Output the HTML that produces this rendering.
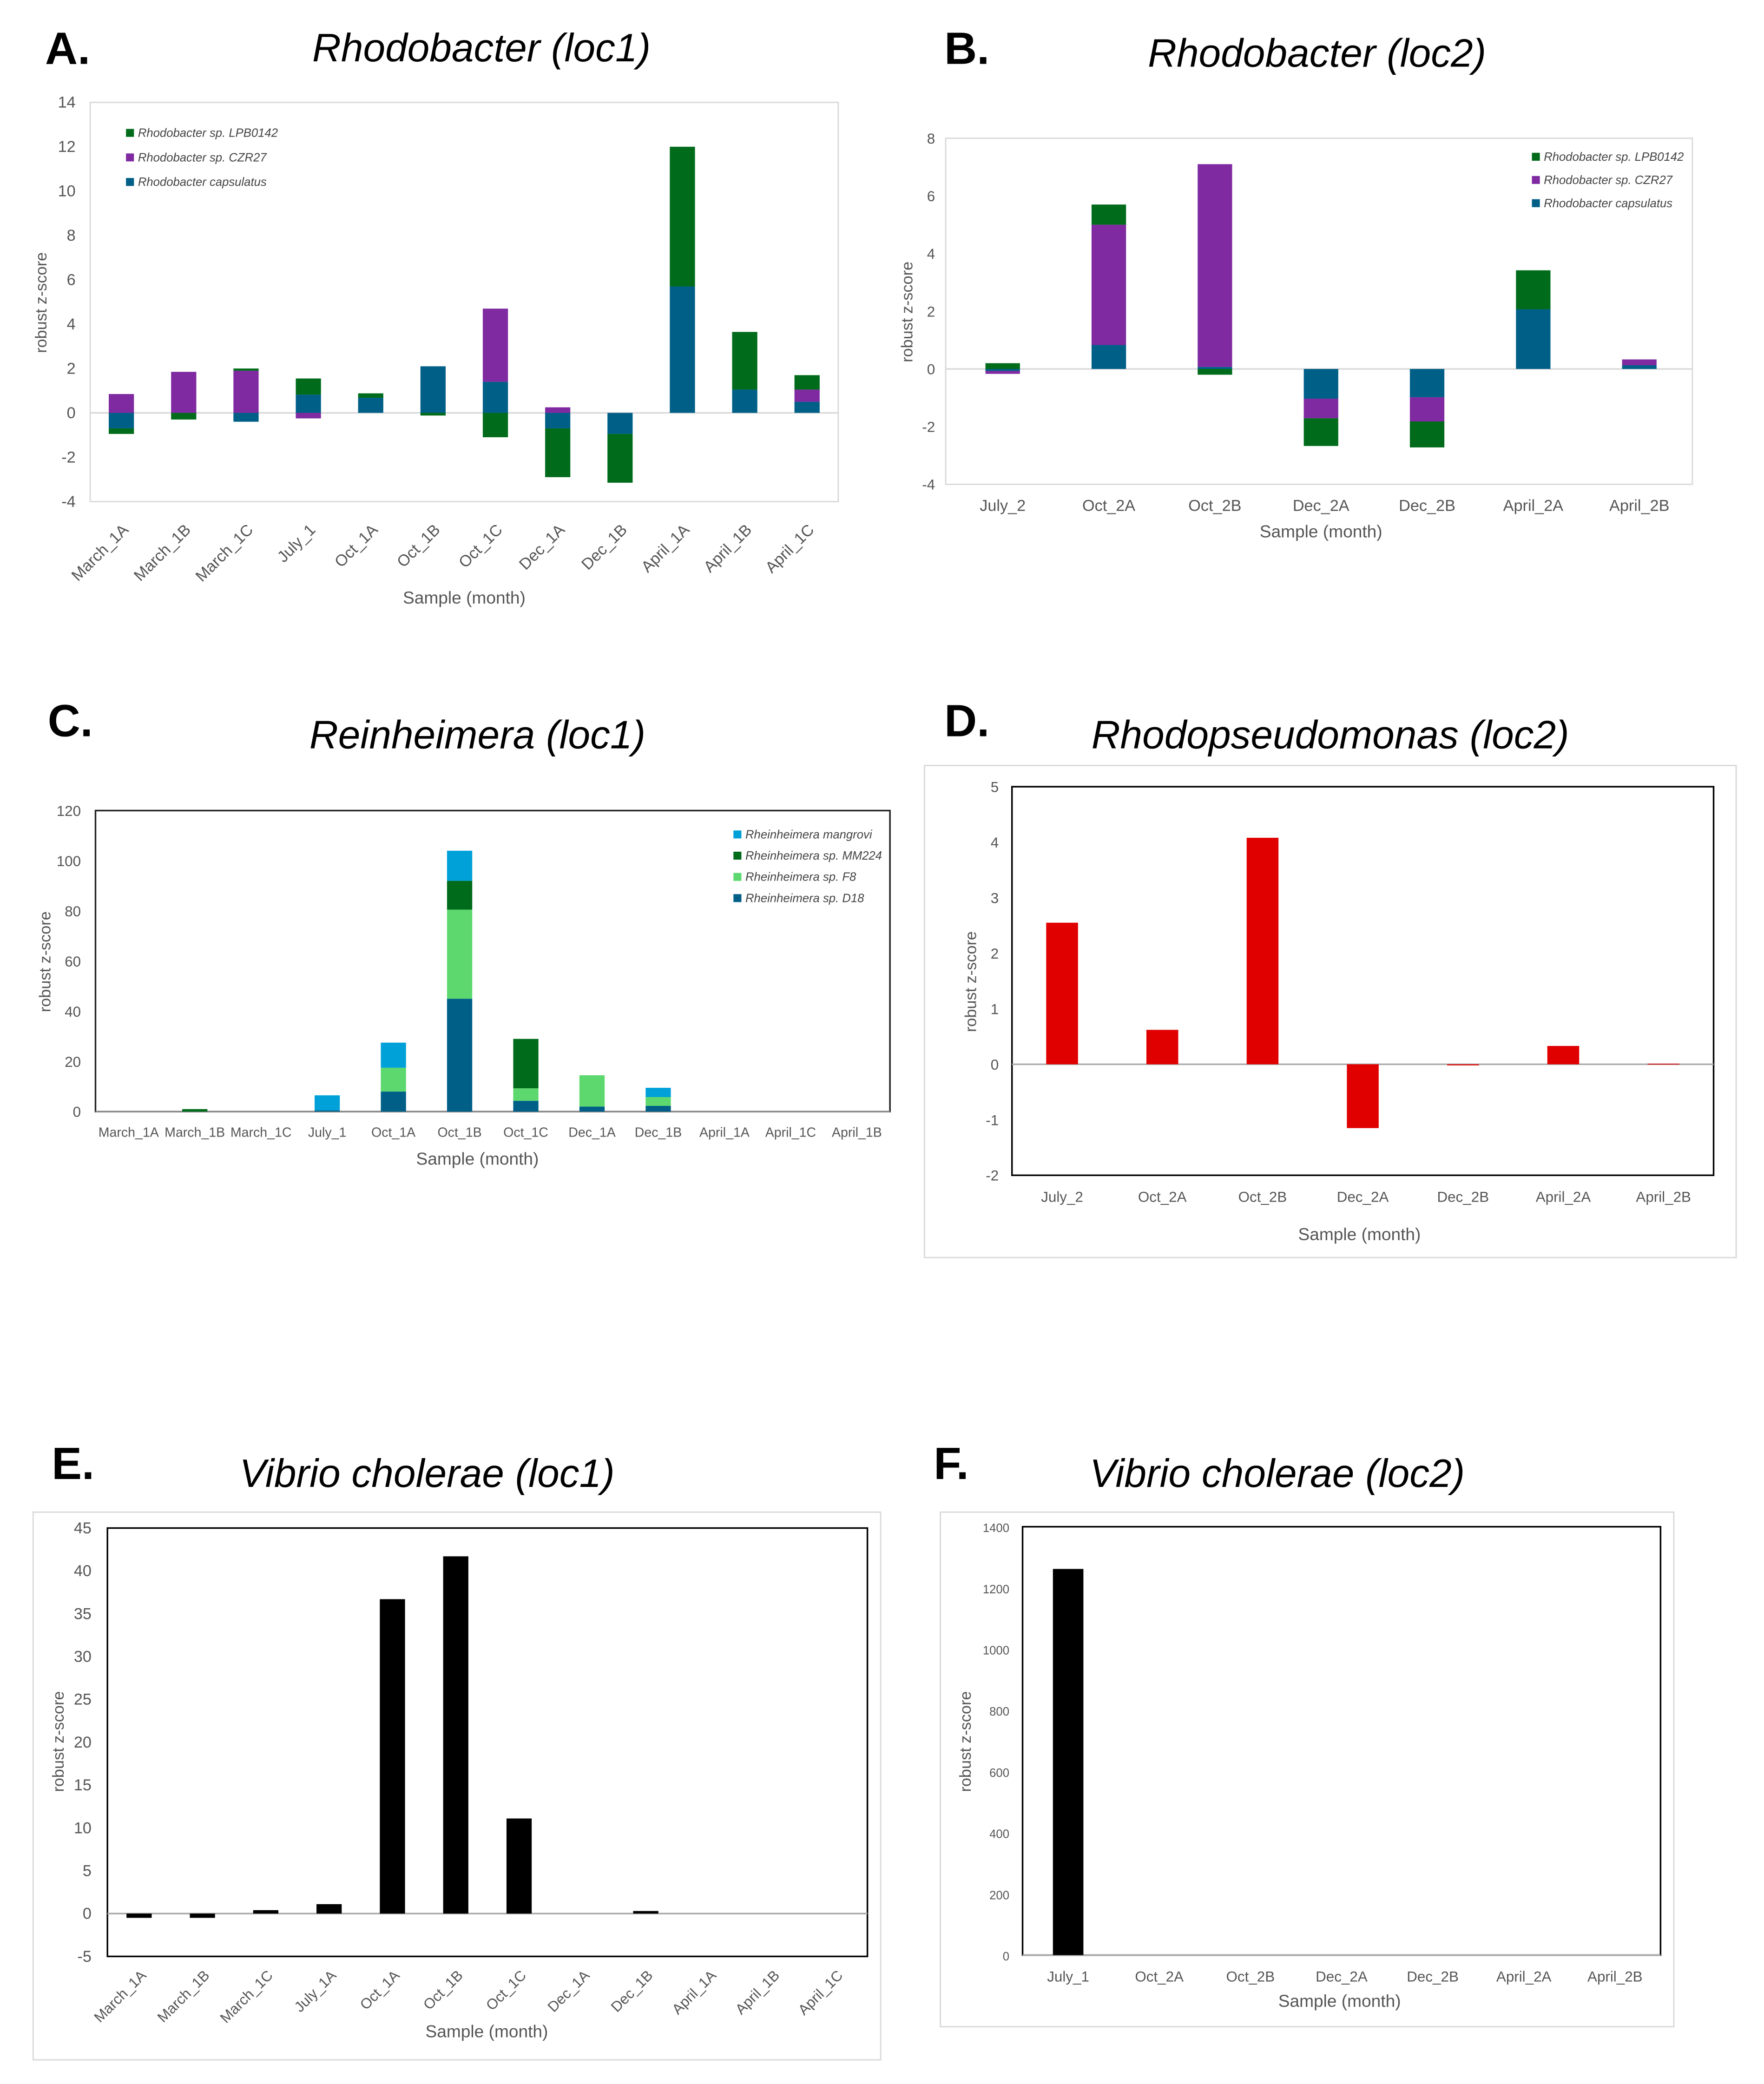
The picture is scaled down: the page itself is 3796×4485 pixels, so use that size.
<!DOCTYPE html>
<html><head><meta charset="utf-8"><style>
html,body{margin:0;padding:0;background:#fff;}
svg{display:block;font-family:"Liberation Sans",sans-serif;}
</style></head><body>
<svg id="fig" width="3796" height="4485" viewBox="0 0 1330 1571" xmlns="http://www.w3.org/2000/svg">
<rect x="0" y="0" width="1330" height="1571" fill="#fff"/>
</svg>
<script>
// ---------- DATA ----------
const catsA = ["March_1A","March_1B","March_1C","July_1","Oct_1A","Oct_1B","Oct_1C","Dec_1A","Dec_1B","April_1A","April_1B","April_1C"];
const capsA = [-0.7, 0, -0.4, 0.82, 0.68, 2.1, 1.4, -0.7, -0.95, 5.7, 1.05, 0.5];
const czrA  = [0.85, 1.85, 1.9, -0.25, 0, 0, 3.3, 0.25, 0, 0, 0, 0.55];
const lpbA  = [-0.25, -0.3, 0.1, 0.73, 0.2, -0.12, -1.1, -2.2, -2.2, 6.3, 2.6, 0.65];
const ticksA = [14,12,10,8,6,4,2,0,-2,-4];

const catsB = ["July_2","Oct_2A","Oct_2B","Dec_2A","Dec_2B","April_2A","April_2B"];
const capsB = [-0.07, 0.83, 0.07, -1.03, -0.98, 2.07, 0.13];
const czrB  = [-0.1, 4.17, 7.03, -0.68, -0.84, 0, 0.2];
const lpbB  = [0.2, 0.7, -0.2, -0.96, -0.9, 1.35, 0];
const ticksB = [8,6,4,2,0,-2,-4];

const catsC = ["March_1A","March_1B","March_1C","July_1","Oct_1A","Oct_1B","Oct_1C","Dec_1A","Dec_1B","April_1A","April_1C","April_1B"];
const d18C  = [0, 0, 0, 0.5, 8, 45, 4.3, 2, 2.3, 0, 0, 0];
const f8C   = [0, 0, 0, 0, 9.5, 35.5, 5, 12.5, 3.5, 0, 0, 0];
const mm224C= [0, 1, 0, 0, 0, 11.5, 19.7, 0, 0, 0, 0, 0];
const mangC = [0, 0, 0, 6, 10, 12, 0, 0, 3.7, 0, 0, 0];
const ticksC = [120,100,80,60,40,20,0];

const catsD = ["July_2","Oct_2A","Oct_2B","Dec_2A","Dec_2B","April_2A","April_2B"];
const valsD = [2.55, 0.62, 4.08, -1.15, -0.02, 0.33, 0.01];
const ticksD = [5,4,3,2,1,0,-1,-2];

const catsE = ["March_1A","March_1B","March_1C","July_1A","Oct_1A","Oct_1B","Oct_1C","Dec_1A","Dec_1B","April_1A","April_1B","April_1C"];
const valsE = [-0.5, -0.5, 0.4, 1.1, 36.7, 41.7, 11.1, 0, 0.3, 0, 0, 0];
const ticksE = [45,40,35,30,25,20,15,10,5,0,-5];

const catsF = ["July_1","Oct_2A","Oct_2B","Dec_2A","Dec_2B","April_2A","April_2B"];
const valsF = [1262, 0, 0, 0, 0, 0, 0];
const ticksF = [1400,1200,1000,800,600,400,200,0];

// ---------- DRAWING ----------
const NS="http://www.w3.org/2000/svg";
const svg=document.getElementById('fig');
function el(tag, attrs, parent, text){
  const e=document.createElementNS(NS,tag);
  for(const k in attrs) e.setAttribute(k, attrs[k]);
  if(text!==undefined) e.textContent=text;
  (parent||svg).appendChild(e);
  return e;
}
const C={green:"#006b1b",purple:"#7f2aa0",blue:"#005f87",cyan:"#00a0d8",lgreen:"#5cd86e",red:"#e00000",black:"#000"};

function chart(cfg){
  const g=el('g',{});
  
  
  const x0=cfg.x0,x1=cfg.x1,y0=cfg.y0,y1=cfg.y1;
  const vmin=cfg.vmin,vmax=cfg.vmax;
  const yS=v=>y0+(vmax-v)/(vmax-vmin)*(y1-y0);
  const n=cfg.cats.length, step=(x1-x0)/n;
  const xS=i=>x0+step*(i+0.5);
  if(cfg.outer){
    const o=el('rect',{x:cfg.outer[0],y:cfg.outer[1],width:cfg.outer[2]-cfg.outer[0],height:cfg.outer[3]-cfg.outer[1],fill:"none",stroke:"#d9d9d9","stroke-width":1},g);
    
    
  }
  const fr=el('rect',{x:x0-cfg.padL,y:y0,width:x1-x0+cfg.padL,height:y1-y0,fill:"none",stroke:cfg.frame,"stroke-width":cfg.frameW},g);
  
  
  const zl=el('line',{x1:x0-cfg.padL,x2:x1,y1:yS(0),y2:yS(0),stroke:cfg.zeroCol||"#d9d9d9","stroke-width":1.2},g);
  
  
  cfg.ticks.forEach(t=>{
    const tx=el('text',{x:cfg.tickX,y:yS(t)+4,"text-anchor":"end","font-size":cfg.tickSize,fill:"#555"},g,String(t));
    
    
  });
  cfg.cats.forEach((c,i)=>{
    let pos=0,neg=0;
    cfg.series.forEach(s=>{
      const v=s.vals[i];
      if(!v) return;
      let a,b;
      if(v>0){a=pos;b=pos+v;pos=b;} else {a=neg;b=neg+v;neg=b;}
      const ya=yS(a), yb=yS(b);
      const r=el('rect',{x:xS(i)-cfg.barW/2,y:Math.min(ya,yb),width:cfg.barW,height:Math.max(0.6,Math.abs(ya-yb)),fill:s.color},g);
      
      
    });
    let lb;
    if(cfg.rot){
      lb=el('text',{x:xS(i)+6,y:cfg.labY,"text-anchor":"end","font-size":cfg.labSize,fill:"#555",transform:`rotate(-45 ${xS(i)+6} ${cfg.labY})`},g,c);
    } else {
      const at={x:xS(i),y:cfg.labY,"text-anchor":"middle","font-size":cfg.labSize,fill:"#555"};
      if(cfg.labFit && c.length>8){at.textLength=step-3;at.lengthAdjust="spacingAndGlyphs";}
      lb=el('text',at,g,c);
    }
    
    
  });
  const xt=el('text',{x:cfg.xtX,y:cfg.xtY,"text-anchor":"middle","font-size":13,fill:"#555"},g,"Sample (month)");
  
  
  const yt=el('text',{x:cfg.ytX,y:cfg.ytY,"text-anchor":"middle","font-size":12,fill:"#555",transform:`rotate(-90 ${cfg.ytX} ${cfg.ytY})`},g,"robust z-score");
  
  
  const tt=el('text',{x:cfg.titleX,y:cfg.titleY,"text-anchor":"middle","font-size":30,"font-style":"italic",fill:"#000"},g,cfg.title);
  
  
  const lt=el('text',{x:cfg.letX,y:cfg.letY,"font-size":34,"font-weight":"bold",fill:"#000"},g,cfg.letter);
  
  
  if(cfg.legend){
    cfg.legend.items.forEach((it,k)=>{
      const ly=cfg.legend.y+k*cfg.legend.dy;
      const sw=el('rect',{x:cfg.legend.x,y:ly-6,width:6,height:6,fill:it[1]},g);
      
      
      const lx=el('text',{x:cfg.legend.x+9,y:ly,"font-size":9,"font-style":"italic",fill:"#444"},g,it[0]);
      
      
    });
  }
}

chart({name:"chart-a",x0:68,x1:632,y0:77,y1:378,vmin:-4,vmax:14,padL:0,frame:"#d9d9d9",frameW:1,
  cats:catsA,ticks:ticksA,tickX:57,tickSize:12,barW:19,
  series:[{key:"capsulatus",vals:capsA,color:C.blue},{key:"czr27",vals:czrA,color:C.purple},{key:"lpb0142",vals:lpbA,color:C.green}],
  rot:true,labY:400,labSize:12,xtX:350,xtY:455,ytX:35,ytY:228,
  title:"Rhodobacter (loc1)",titleX:363,titleY:46,letter:"A.",letX:34,letY:48,
  legend:{x:95,y:103,dy:18.5,items:[["Rhodobacter sp. LPB0142",C.green],["Rhodobacter sp. CZR27",C.purple],["Rhodobacter capsulatus",C.blue]]}});

chart({name:"chart-b",x0:716,x1:1276,y0:104,y1:365,vmin:-4,vmax:8,padL:3,frame:"#d9d9d9",frameW:1,
  cats:catsB,ticks:ticksB,tickX:705,tickSize:11,barW:26,
  series:[{key:"capsulatus",vals:capsB,color:C.blue},{key:"czr27",vals:czrB,color:C.purple},{key:"lpb0142",vals:lpbB,color:C.green}],
  rot:false,labY:385,labSize:12,xtX:996,xtY:405,ytX:688,ytY:235,
  title:"Rhodobacter (loc2)",titleX:993,titleY:50,letter:"B.",letX:712,letY:48,
  legend:{x:1155,y:121,dy:17.5,items:[["Rhodobacter sp. LPB0142",C.green],["Rhodobacter sp. CZR27",C.purple],["Rhodobacter capsulatus",C.blue]]}});

chart({name:"chart-c",x0:72,x1:671,y0:611,y1:838,vmin:0,vmax:120,padL:0,frame:"#222",frameW:1.2,zeroCol:"#888",
  cats:catsC,ticks:ticksC,tickX:61,tickSize:11,barW:19,
  series:[{key:"d18",vals:d18C,color:C.blue},{key:"f8",vals:f8C,color:C.lgreen},{key:"mm224",vals:mm224C,color:C.green},{key:"mangrovi",vals:mangC,color:C.cyan}],
  rot:false,labY:857,labSize:10,labFit:true,xtX:360,xtY:878,ytX:38,ytY:725,
  title:"Reinheimera (loc1)",titleX:360,titleY:564,letter:"C.",letX:36,letY:555,
  legend:{x:553,y:632,dy:16,items:[["Rheinheimera mangrovi",C.cyan],["Rheinheimera sp. MM224",C.green],["Rheinheimera sp. F8",C.lgreen],["Rheinheimera sp. D18",C.blue]]}});

chart({name:"chart-d",x0:763,x1:1292,y0:593,y1:886,vmin:-2,vmax:5,padL:0,frame:"#000",frameW:1.2,zeroCol:"#aaa",
  outer:[697,577,1309,948],
  cats:catsD,ticks:ticksD,tickX:753,tickSize:11,barW:24,
  series:[{key:"value",vals:valsD,color:C.red}],
  rot:false,labY:906,labSize:11,xtX:1025,xtY:935,ytX:736,ytY:740,
  title:"Rhodopseudomonas (loc2)",titleX:1003,titleY:564,letter:"D.",letX:712,letY:555});

chart({name:"chart-e",x0:81,x1:654,y0:1152,y1:1475,vmin:-5,vmax:45,padL:0,frame:"#000",frameW:1.2,zeroCol:"#aaa",
  outer:[25,1140,664,1553],
  cats:catsE,ticks:ticksE,tickX:69,tickSize:12,barW:19,
  series:[{key:"value",vals:valsE,color:C.black}],
  rot:true,labY:1490,labSize:11,xtX:367,xtY:1536,ytX:48,ytY:1313,
  title:"Vibrio cholerae (loc1)",titleX:322,titleY:1121,letter:"E.",letX:39,letY:1115});

chart({name:"chart-f",x0:771,x1:1252,y0:1151,y1:1474,vmin:0,vmax:1400,padL:0,frame:"#000",frameW:1.2,zeroCol:"#aaa",
  outer:[709,1140,1262,1528],
  cats:catsF,ticks:ticksF,tickX:761,tickSize:9,barW:23,
  series:[{key:"value",vals:valsF,color:C.black}],
  rot:false,labY:1494,labSize:11,xtX:1010,xtY:1513,ytX:732,ytY:1313,
  title:"Vibrio cholerae (loc2)",titleX:963,titleY:1121,letter:"F.",letX:704,letY:1115});
</script>
</body></html>
